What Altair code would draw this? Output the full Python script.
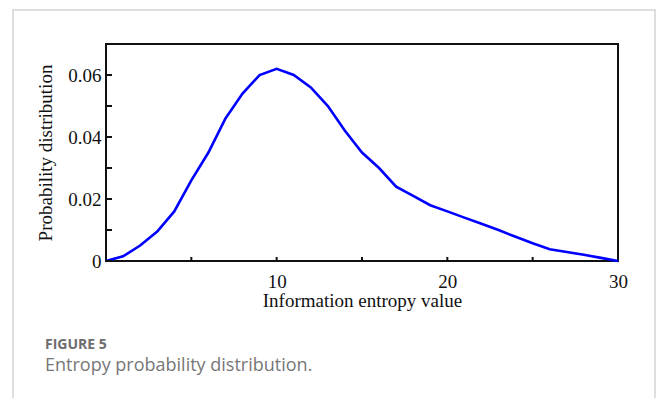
import altair as alt
import pandas as pd

# Data
entropy = list(range(0, 31))
prob = [0, 0.0015, 0.005, 0.0095, 0.016, 0.026, 0.035, 0.046, 0.054, 0.060,
        0.062, 0.060, 0.056, 0.050, 0.042, 0.035, 0.030, 0.024, 0.021, 0.018,
        0.016, 0.014, 0.012, 0.010, 0.0078, 0.0057, 0.0038, 0.0029, 0.0020, 0.0010, 0]

y_major = [0, 0.02, 0.04, 0.06]
y_minor = [0.01, 0.03, 0.05]
x_ticks = [5, 10, 15, 20, 25]
x_labels = [10, 20, 30]

df = pd.DataFrame({"x": entropy, "y": prob})
W, H = 512, 217
PL, PT = 106, 44

xs = alt.Scale(domain=[0, 30], nice=False, zero=False)
ys = alt.Scale(domain=[0, 0.07], nice=False)

serif = "Liberation Serif"
FS = 19

line = alt.Chart(df).mark_line(color="#0000ff", strokeWidth=2.6).encode(
    x=alt.X("x:Q", scale=xs,
            axis=alt.Axis(values=x_labels, ticks=False, domain=False, grid=False,
                          labelFont=serif, labelFontSize=FS, labelColor="#111",
                          labelPadding=11, labelFlush=False,
                          title="Information entropy value", titleFont=serif,
                          titleFontSize=FS, titleFontWeight="normal", titleColor="#111",
                          titlePadding=0)),
    y=alt.Y("y:Q", scale=ys,
            axis=alt.Axis(values=y_major, ticks=False, domain=False, grid=False,
                          labelExpr="datum.value == 0 ? '0' : format(datum.value, '.2f')",
                          labelFont=serif, labelFontSize=FS, labelColor="#111",
                          labelPadding=5, labelFlush=False,
                          title="Probability distribution", titleFont=serif,
                          titleFontSize=FS, titleFontWeight="normal", titleColor="#111",
                          titlePadding=12)),
)

ytick_df = pd.DataFrame({"v": y_major + y_minor})
yticks = alt.Chart(ytick_df).mark_rule(color="#111", strokeWidth=2).encode(
    y=alt.Y("v:Q", scale=ys), x=alt.value(0), x2=alt.value(6)
)
xtick_df = pd.DataFrame({"v": x_ticks})
xticks = alt.Chart(xtick_df).mark_rule(color="#111", strokeWidth=2).encode(
    x=alt.X("v:Q", scale=xs), y=alt.value(H), y2=alt.value(H - 4)
)

card = alt.Chart(pd.DataFrame({"a": [0]})).mark_rect(
    fill="white", fillOpacity=0, stroke="#d3d3d3", strokeWidth=1.5
).encode(
    x=alt.value(13 - PL), x2=alt.value(655 - PL),
    y=alt.value(10 - PT), y2=alt.value(420 - PT)
)

cap1 = alt.Chart(pd.DataFrame({"t": ["FIGURE 5"]})).mark_text(
    align="left", baseline="middle", font="Open Sans", fontSize=14,
    fontWeight="bold", color="#6d6d6d"
).encode(text="t:N", x=alt.value(45 - PL), y=alt.value(345 - PT))

cap2 = alt.Chart(pd.DataFrame({"t": ["Entropy probability distribution."]})).mark_text(
    align="left", baseline="alphabetic", font="Open Sans", fontSize=18,
    color="#777777"
).encode(text="t:N", x=alt.value(45 - PL), y=alt.value(371 - PT))

chart = alt.layer(card, line, yticks, xticks, cap1, cap2).properties(
    width=W, height=H,
    autosize=alt.AutoSizeParams(type="none"),
    padding={"left": PL, "top": PT, "right": 656 - PL - W, "bottom": 398 - PT - H},
    background="white",
).configure_view(stroke="#111", strokeWidth=2)

chart.save("out.html", embed_options={"renderer": "svg", "actions": False})
